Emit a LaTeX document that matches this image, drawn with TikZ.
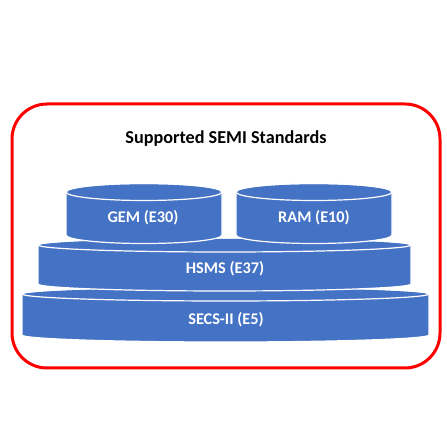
\documentclass[tikz,border=0pt]{standalone}
\usepackage{fontspec}
\setmainfont{Carlito}
\definecolor{semiblue}{HTML}{4472C4}
\tikzset{
  layer/.style={fill=semiblue, draw=white, line width=1.2pt},
  lbl/.style={text=white, font=\bfseries\fontsize{16.3}{18}\selectfont},
}
% drum: left x, right x, top centre y, bottom centre y, y radius
\newcommand\drum[5]{%
  \path[layer] (#1,#3) -- (#1,#4)
    arc[start angle=180, end angle=360, x radius={(#2-#1)/2}, y radius=#5]
    -- (#2,#3)
    arc[start angle=0, end angle=180, x radius={(#2-#1)/2}, y radius=#5] -- cycle;
  \draw[white, line width=1.2pt] ({(#1+#2)/2},#3) ellipse[x radius={(#2-#1)/2}, y radius=#5];
}
\begin{document}
\begin{tikzpicture}[x=1pt, y=1pt]
\useasboundingbox (0,0) rectangle (447,447);
\draw[red, line width=3pt, rounded corners=35pt] (12,79) rectangle (440,343);
\node[font=\bfseries\fontsize{18.2}{20}\selectfont] (title) at (226,308) {Supported SEMI Standards};

\drum{22}{429}{153}{112}{7}
\drum{38}{411}{202}{163}{7}
\drum{66}{222}{255}{212}{8.5}
\drum{236}{392}{255}{212}{8.5}

\node[lbl] (secs) at (226,127) {SECS-II (E5)};
\node[lbl] (hsms) at (225,178) {HSMS (E37)};
\node[lbl] (gem) at (143,229) {GEM (E30)};
\node[lbl] (ram) at (314,229) {RAM (E10)};
\end{tikzpicture}
\end{document}
